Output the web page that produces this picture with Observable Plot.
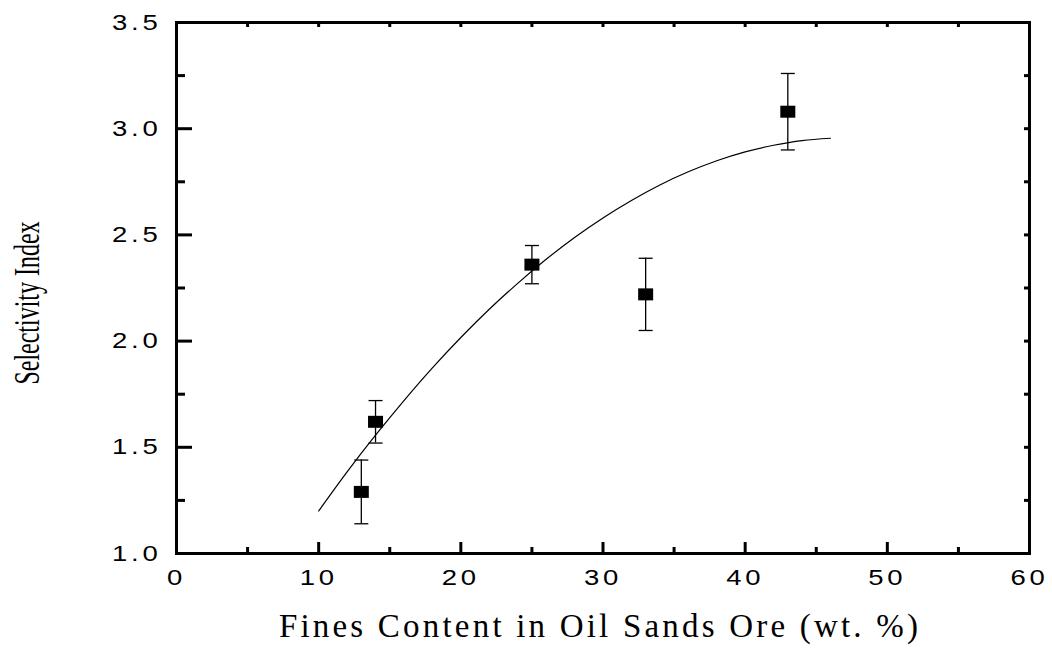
<!DOCTYPE html>
<html>
<head>
<meta charset="utf-8">
<script src="https://cdn.jsdelivr.net/npm/d3@7"></script>
<script src="https://cdn.jsdelivr.net/npm/@observablehq/plot@0.6"></script>
<style>
  html, body { margin: 0; padding: 0; background: #fff; }
</style>
</head>
<body>
<div id="chart"></div>
<script>
// Measured data points (fines content, selectivity index, error half-width)
const fines = [13, 14, 25, 33, 43];
const selectivity = [1.29, 1.62, 2.36, 2.22, 3.08];
const errors = [0.15, 0.10, 0.09, 0.17, 0.18];

// Fitted curve
const fitX = [10, 12, 14, 16, 18, 20, 22, 24, 26, 28, 30, 32, 34, 36, 38, 40, 42, 44, 46];
const fitY = [1.20, 1.384, 1.557, 1.720, 1.874, 2.017, 2.150, 2.272, 2.385, 2.488, 2.580, 2.662, 2.735, 2.797, 2.849, 2.891, 2.922, 2.944, 2.955];

// Ticks
const xMajor = [0, 10, 20, 30, 40, 50, 60];
const xMinor = [5, 15, 25, 35, 45, 55];
const yMajor = [1.0, 1.5, 2.0, 2.5, 3.0, 3.5];
const yMinor = [1.25, 1.75, 2.25, 2.75, 3.25];

const xTitle = "Fines Content in Oil Sands Ore (wt. %)";
const yTitle = "Selectivity Index";

const W = 1052, H = 648, ML = 176, MR = 23, MT = 22, MB = 95;
const plotW = W - ML - MR, plotH = H - MT - MB;

const points = fines.map((x, i) => ({x, y: selectivity[i], lo: selectivity[i] - errors[i], hi: selectivity[i] + errors[i]}));
const fit = fitX.map((x, i) => ({x, y: fitY[i]}));

const squareSymbol = {draw(ctx) { ctx.rect(-7.5, -6, 15, 12); }};
const capSymbol = {draw(ctx) { ctx.moveTo(-7, 0); ctx.lineTo(7, 0); }};

// inward tick marks: full-span ticks shrunk with insets so they stick in from the frame
const tk = {stroke: "black", strokeWidth: 3};
function ticksX(values, side, len) {
  const data = values.map(v => ({v}));
  return Plot.tickX(data, {x: "v", ...tk, ...(side === "bottom" ? {insetTop: plotH - len} : {insetBottom: plotH - len})});
}
function ticksY(values, side, len) {
  const data = values.map(v => ({v}));
  return Plot.tickY(data, {y: "v", ...tk, ...(side === "left" ? {insetRight: plotW - len} : {insetLeft: plotW - len})});
}

const chart = Plot.plot({
  width: W,
  height: H,
  marginLeft: ML,
  marginRight: MR,
  marginTop: MT,
  marginBottom: MB,
  style: {fontFamily: "Liberation Sans, Arial, sans-serif", fontSize: "22px", background: "#fff", color: "#000"},
  x: {domain: [0, 60]},
  y: {domain: [1.0, 3.5]},
  marks: [
    // tick labels
    Plot.axisX(xMajor.slice(), {anchor: "bottom", tickSize: 0, tickPadding: 16, label: null, fontSize: 22, tickFormat: d => String(d)}),
    Plot.axisY(yMajor.slice(), {anchor: "left", tickSize: 0, tickPadding: 15, label: null, fontSize: 22, tickFormat: d => d.toFixed(1)}),
    Plot.frame({stroke: "black", strokeWidth: 3}),
    // fitted curve
    Plot.line(fit, {x: "x", y: "y", curve: "natural", stroke: "black", strokeWidth: 1.2}),
    // error bars
    Plot.ruleX(points, {x: "x", y1: "lo", y2: "hi", stroke: "black", strokeWidth: 1.3}),
    Plot.dot(points, {x: "x", y: "lo", symbol: capSymbol, stroke: "black", strokeWidth: 1.3, fill: "none"}),
    Plot.dot(points, {x: "x", y: "hi", symbol: capSymbol, stroke: "black", strokeWidth: 1.3, fill: "none"}),
    // markers
    Plot.dot(points, {x: "x", y: "y", symbol: squareSymbol, fill: "black", stroke: "none"}),
    // inward ticks (drawn last so nothing covers them)
    ticksX(xMajor, "bottom", 11),
    ticksX(xMinor, "bottom", 6),
    ticksX(xMajor.concat(xMinor), "top", 5),
    ticksY(yMajor, "left", 16),
    ticksY(yMinor, "left", 9),
    ticksY(yMajor.concat(yMinor), "right", 5),
    // titles
    Plot.text([xTitle], {frameAnchor: "bottom", dy: 73, dx: -3, textAnchor: "middle", lineAnchor: "middle", fontFamily: "Liberation Serif, Times New Roman, serif", fontSize: 33, fill: "black"}),
    Plot.text([yTitle], {frameAnchor: "left", dx: -149, dy: 15, rotate: -90, textAnchor: "middle", lineAnchor: "middle", fontFamily: "Liberation Serif, Times New Roman, serif", fontSize: 24, fill: "black"})
  ]
});

document.getElementById("chart").appendChild(chart);

// typographic tweaks: letter spacing and horizontal stretch of the glyphs
function stretch(el, sx, sy) {
  const t = el.getAttribute("transform");
  if (t) el.setAttribute("transform", t + ` scale(${sx},${sy})`);
  else {
    const x = +el.getAttribute("x") || 0, y = +el.getAttribute("y") || 0;
    el.removeAttribute("x"); el.removeAttribute("y");
    el.setAttribute("transform", `translate(${x},${y}) scale(${sx},${sy})`);
  }
}
const svg = d3.select(chart.tagName.toLowerCase() === "svg" ? chart : chart.querySelector("svg"));
svg.selectAll('g[aria-label="x-axis tick label"] text, g[aria-label="y-axis tick label"] text').each(function() {
  if (!this.textContent) return;
  this.style.letterSpacing = "3px";
  stretch(this, 1.25, 1);
});
svg.selectAll("text").each(function() {
  if (this.textContent === xTitle) this.style.letterSpacing = "3.2px";
  if (this.textContent === yTitle) stretch(this, 1, 1.5);
});
</script>
</body>
</html>
